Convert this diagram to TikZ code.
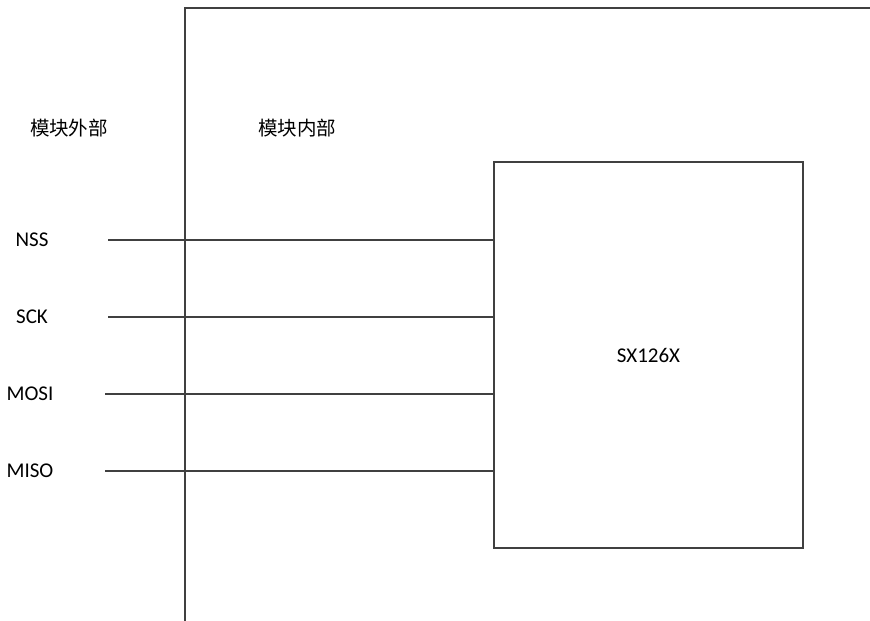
\documentclass[tikz,border=0pt]{standalone}
\usepackage{fontspec}
\setmainfont{Carlito}
\newfontfamily\cjk{Noto Sans CJK SC}
\usetikzlibrary{positioning}

\begin{document}
\begin{tikzpicture}[x=1pt,y=-1pt,
    chip/.style={
% The shape:
rectangle,
% The size:
minimum width=309pt,
minimum height=386pt,
% The border:
draw=black!75, line width=1.5pt, outer sep=0pt,
},
    pinlabel/.style={
% The text:
font=\fontsize{21}{25}\selectfont, inner sep=0pt,
},
    arealabel/.style={
% The text:
font=\cjk\fontsize{19.5}{23}\selectfont, inner sep=0pt,
},
    wire/.style={
% The line:
draw=black!75, line width=1.5pt,
},
]
  \useasboundingbox (0,0) rectangle (870,621);
  % boundary of the module
  \draw[wire] (185,621) -- (185,8) -- (870,8);
  \node[arealabel]                      (outside) at (69, 128) {模块外部};
  \node[arealabel]                      (inside) at (297, 128) {模块内部};

  \node[chip]                           (sx) at (648.5, 355) {};
  \node[pinlabel]                       (sxname) at (sx.center) {SX126X};

  \node[pinlabel]                       (nss) at (32, 240) {NSS};
  \node[pinlabel]                       (sck) at (32, 317) {SCK};
  \node[pinlabel]                       (mosi) at (30, 394) {MOSI};
  \node[pinlabel]                       (miso) at (30, 471) {MISO};

  \coordinate                           (nss-w) at (108, 240);
  \coordinate                           (sck-w) at (108, 317);
  \coordinate                           (mosi-w) at (105, 394);
  \coordinate                           (miso-w) at (105, 471);

  \draw[wire] (nss-w)  -- (nss-w  -| sx.west);
  \draw[wire] (sck-w)  -- (sck-w  -| sx.west);
  \draw[wire] (mosi-w) -- (mosi-w -| sx.west);
  \draw[wire] (miso-w) -- (miso-w -| sx.west);

\end{tikzpicture}
\end{document}
